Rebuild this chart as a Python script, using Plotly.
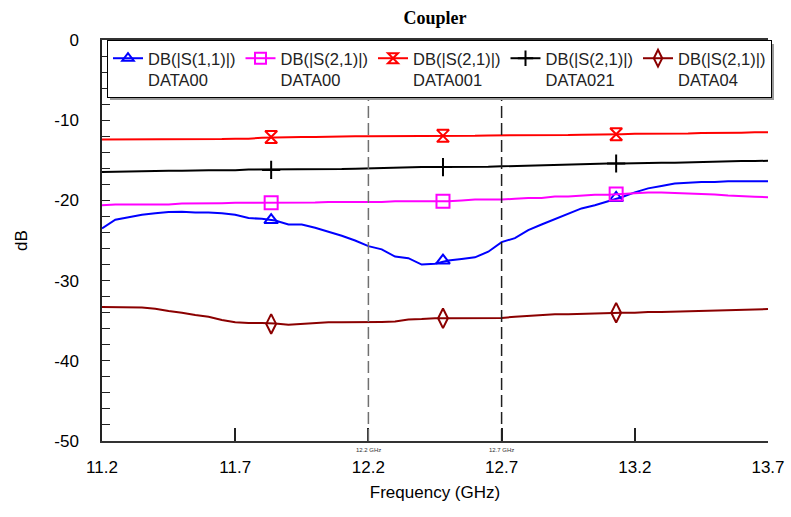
import plotly.graph_objects as go

freq = [11.20, 11.25, 11.30, 11.35, 11.40, 11.45, 11.50, 11.55, 11.60, 11.65,
        11.70, 11.75, 11.80, 11.85, 11.90, 11.95, 12.00, 12.05, 12.10, 12.15,
        12.20, 12.25, 12.30, 12.35, 12.40, 12.45, 12.50, 12.55, 12.60, 12.65,
        12.70, 12.75, 12.80, 12.85, 12.90, 12.95, 13.00, 13.05, 13.10, 13.15,
        13.20, 13.25, 13.30, 13.35, 13.40, 13.45, 13.50, 13.55, 13.60, 13.65, 13.70]

s11_data00 = [-23.5, -22.4, -22.1, -21.8, -21.6, -21.45, -21.4, -21.5, -21.5, -21.6,
              -21.8, -22.2, -22.3, -22.5, -23.0, -23.0, -23.4, -23.9, -24.4, -25.0,
              -25.7, -26.1, -27.0, -27.2, -28.0, -27.9, -27.5, -27.3, -27.1, -26.4,
              -25.2, -24.7, -23.7, -23.0, -22.3, -21.7, -21.0, -20.6, -20.1, -19.6,
              -19.0, -18.5, -18.2, -17.9, -17.8, -17.7, -17.7, -17.6, -17.6, -17.6, -17.6]

s21_data00 = [-20.6, -20.5, -20.5, -20.5, -20.5, -20.5, -20.4, -20.4, -20.4, -20.35,
              -20.3, -20.3, -20.3, -20.3, -20.3, -20.25, -20.25, -20.2, -20.2, -20.2,
              -20.2, -20.2, -20.1, -20.1, -20.1, -20.1, -20.1, -20.0, -19.9, -19.9,
              -19.9, -19.8, -19.7, -19.7, -19.5, -19.5, -19.4, -19.3, -19.3, -19.2,
              -19.1, -19.0, -19.0, -19.05, -19.1, -19.2, -19.25, -19.4, -19.5, -19.55, -19.6]

s21_data001 = [-12.4, -12.4, -12.4, -12.4, -12.4, -12.4, -12.4, -12.4, -12.35, -12.35,
               -12.3, -12.3, -12.2, -12.15, -12.1, -12.1, -12.1, -12.05, -12.05, -12.0,
               -12.0, -12.0, -12.0, -12.0, -11.95, -11.95, -11.95, -11.95, -11.95, -11.9,
               -11.9, -11.9, -11.9, -11.85, -11.85, -11.85, -11.8, -11.8, -11.75, -11.75,
               -11.7, -11.7, -11.7, -11.65, -11.65, -11.6, -11.6, -11.55, -11.55, -11.5, -11.5]

s21_data021 = [-16.45, -16.45, -16.4, -16.35, -16.3, -16.3, -16.3, -16.25, -16.25, -16.25,
               -16.25, -16.15, -16.15, -16.15, -16.15, -16.15, -16.15, -16.1, -16.1, -16.05,
               -16.0, -16.0, -15.95, -15.9, -15.85, -15.85, -15.85, -15.8, -15.8, -15.8,
               -15.75, -15.7, -15.65, -15.6, -15.55, -15.5, -15.5, -15.45, -15.4, -15.4,
               -15.35, -15.35, -15.3, -15.3, -15.25, -15.25, -15.2, -15.15, -15.1, -15.1, -15.05]

s21_data04 = [-33.3, -33.3, -33.3, -33.35, -33.5, -33.8, -34.0, -34.3, -34.5, -34.9,
              -35.2, -35.3, -35.3, -35.35, -35.5, -35.4, -35.3, -35.2, -35.2, -35.2,
              -35.2, -35.15, -35.1, -34.85, -34.8, -34.7, -34.7, -34.7, -34.7, -34.7,
              -34.65, -34.5, -34.4, -34.3, -34.2, -34.2, -34.15, -34.1, -34.0, -34.0,
              -34.0, -33.9, -33.9, -33.85, -33.8, -33.75, -33.7, -33.7, -33.6, -33.6, -33.55]

marker_freq = [11.835, 12.48, 13.13]
m_s11_data00 = [-22.45, -27.5, -19.7]
m_s21_data00 = [-20.3, -20.1, -19.2]
m_s21_data001 = [-12.1, -11.95, -11.75]
m_s21_data021 = [-16.2, -15.85, -15.4]
m_s21_data04 = [-35.4, -34.7, -34.0]

series_names = ["DB(|S(1,1)|)<br>DATA00", "DB(|S(2,1)|)<br>DATA00", "DB(|S(2,1)|)<br>DATA001",
                "DB(|S(2,1)|)<br>DATA021", "DB(|S(2,1)|)<br>DATA04"]
series_vals = [s11_data00, s21_data00, s21_data001, s21_data021, s21_data04]
marker_vals = [m_s11_data00, m_s21_data00, m_s21_data001, m_s21_data021, m_s21_data04]
colors = ["#0000FF", "#FF00FF", "#FF0000", "#000000", "#8B0000"]
symbols = ["triangle-up-open", "square-open", "hourglass-open", "cross-thin", "diamond-tall-open"]
msizes = [12, 13, 12, 13, 14]

marker_lines = [12.2, 12.7]
marker_line_labels = ["12.2 GHz", "12.7 GHz"]
marker_line_colors = ["#707070", "#202020"]

x_ticks = [11.2, 11.7, 12.2, 12.7, 13.2, 13.7]
y_ticks = [0, -10, -20, -30, -40, -50]

fig = go.Figure()

for name, vals, mv, c, sym, ms in zip(series_names, series_vals, marker_vals, colors, symbols, msizes):
    fig.add_trace(go.Scatter(x=freq, y=vals, mode="lines", line=dict(color=c, width=2),
                             showlegend=False, hoverinfo="skip"))
    fig.add_trace(go.Scatter(x=marker_freq, y=mv, mode="markers",
                             marker=dict(symbol=sym, size=ms, color=c, line=dict(color=c, width=2)),
                             showlegend=False))
    fig.add_trace(go.Scatter(x=[None], y=[None], mode="lines+markers", name=name,
                             line=dict(color=c, width=2),
                             marker=dict(symbol=sym, size=ms - 2, color=c, line=dict(color=c, width=2))))

for xv, lab, lc in zip(marker_lines, marker_line_labels, marker_line_colors):
    fig.add_shape(type="line", xref="x", yref="y", x0=xv, x1=xv, y0=-50, y1=0,
                  line=dict(color=lc, width=1.5, dash="12px,5px"), layer="above")
    fig.add_annotation(x=xv, xref="x", y=-50, yref="y", text=lab, showarrow=False,
                       yshift=-9, font=dict(size=6, color="#333333", family="Liberation Sans"))

# legend shadow
fig.add_shape(type="rect", xref="paper", yref="paper",
              x0=(110 - 102) / 666, x1=(774 - 102) / 666,
              y0=(441 - 100) / 401, y1=(441 - 44) / 401,
              fillcolor="#9a9a9a", line=dict(width=0), layer="above")

fig.update_layout(
    width=791, height=517,
    margin=dict(l=102, r=23, t=40, b=76),
    paper_bgcolor="white", plot_bgcolor="white",
    title=dict(text="<b>Coupler</b>", x=435 / 791, xanchor="center", y=1 - 18 / 517, yanchor="middle",
               font=dict(family="Liberation Serif", size=18, color="black")),
    font=dict(family="Liberation Sans", color="black"),
    legend=dict(orientation="h", x=(107 - 102) / 666, xanchor="left", y=1.0, yanchor="top",
                bgcolor="white", bordercolor="black", borderwidth=1,
                font=dict(size=16.5, family="Liberation Sans", color="#222222"),
                entrywidth=87.5, entrywidthmode="pixels", valign="top",
                itemwidth=30, tracegroupgap=0),
    xaxis=dict(range=[11.2, 13.7], tickvals=x_ticks, ticktext=[f"{v:.1f}" for v in x_ticks],
               ticks="inside", ticklen=13, tickcolor="#222222", tickwidth=1.5,
               showline=True, linecolor="#333333", linewidth=2, mirror=True,
               showgrid=False, zeroline=False, automargin=False,
               tickfont=dict(size=17, family="Liberation Sans", color="black"),
               ticklabelstandoff=10,
               title=dict(text="Frequency (GHz)", font=dict(size=17, family="Liberation Sans"), standoff=10)),
    yaxis=dict(range=[-50, 0], tickvals=y_ticks, ticktext=[str(v) for v in y_ticks],
               ticks="inside", ticklen=8, tickcolor="#222222",
               minor=dict(dtick=2, ticks="inside", ticklen=8, tickcolor="#222222"),
               showline=True, linecolor="#222222", linewidth=1.5, mirror=False,
               showgrid=False, zeroline=False, automargin=False,
               tickfont=dict(size=17, family="Liberation Sans", color="black"),
               ticklabelstandoff=18,
               title=dict(text="dB", font=dict(size=17, family="Liberation Sans"), standoff=22)),
)

fig.write_html("out.html", config={"displayModeBar": False},
               post_script="document.body.style.margin='0';document.body.style.overflow='hidden';")
